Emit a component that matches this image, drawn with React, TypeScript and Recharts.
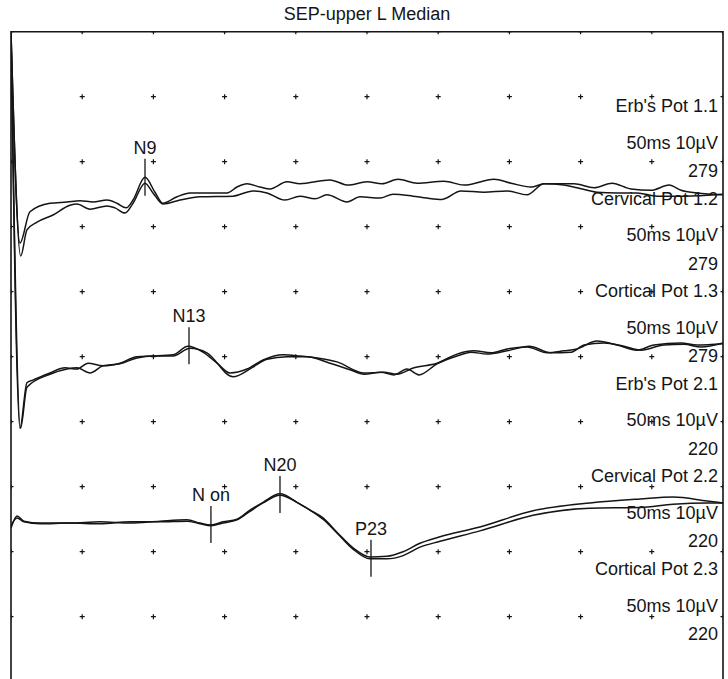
import { ComposedChart, Line, Scatter, XAxis, YAxis, ReferenceArea } from 'recharts';

// time in ms (50 ms sweep), amplitude in µV (10 µV per division, 0 at the bottom edge)
const erbRun1: [number, number][] = [
  [0, 100], [0.63, 67.5], [1.33, 72.3], [2.74, 73.6], [3.93, 73.8], [4.85, 74.0], [5.76, 73.8],
  [6.74, 74.1], [7.44, 73.6], [8.08, 72.9], [8.57, 74.1], [9.41, 77.6], [10.11, 75.3], [10.67, 73.6],
  [11.66, 74.6], [12.57, 75.2], [14.19, 75.2], [15.17, 75.2], [15.87, 76.1], [16.57, 76.6], [17.49, 76.1],
  [18.19, 75.8], [19.38, 76.9], [20.29, 76.6], [22.4, 77.2], [23.67, 76.4], [25.0, 76.9], [26.05, 76.6],
  [27.18, 77.3], [28.51, 76.7], [30.41, 77.0], [31.81, 76.4], [33.92, 77.3], [35.11, 76.7], [36.52, 76.1],
  [37.43, 76.6], [39.54, 76.6], [40.94, 76.0], [42.21, 76.7], [43.54, 75.8], [44.94, 75.6], [46.21, 76.4],
  [47.05, 75.6], [48.17, 75.2], [50, 74.9],
];
const erbRun2: [number, number][] = [
  [0, 100], [0.68, 65.5], [1.12, 69.5], [1.83, 70.7], [2.95, 71.8], [4.14, 73.3], [4.63, 73.5],
  [5.55, 72.7], [6.74, 73.2], [7.3, 72.9], [8.01, 72.1], [8.57, 73.6], [9.41, 76.7], [9.97, 75.2],
  [10.67, 73.5], [11.87, 74.1], [13.27, 74.6], [15.59, 74.7], [16.99, 75.5], [17.98, 75.2], [19.24, 74.1],
  [20.29, 74.7], [21.35, 74.3], [22.19, 74.9], [23.6, 73.8], [24.51, 74.6], [25.91, 74.4], [26.83, 75.0],
  [28.23, 74.7], [29.21, 74.4], [30.27, 74.2], [31.6, 75.5], [33.22, 75.3], [34.83, 75.5], [36.24, 74.9],
  [37.43, 76.6], [38.83, 76.4], [39.75, 76.0], [41.15, 75.3], [42.56, 75.2], [43.96, 75.2], [45.37, 74.7],
  [47.26, 74.7], [50, 75.0],
];
const cervRun1: [number, number][] = [
  [0, 100], [0.63, 39.0], [1.12, 46.0], [1.54, 46.4], [2.74, 47.5], [3.79, 48.3], [4.63, 48.1],
  [5.41, 49.0], [6.46, 48.6], [7.65, 49.0], [8.85, 50.0], [9.97, 50.1], [11.38, 50.3], [12.43, 51.6],
  [13.48, 50.7], [14.47, 49.0], [15.38, 47.5], [16.57, 48.1], [17.7, 49.5], [19.1, 50.3], [20.29, 50.1],
  [21.49, 49.8], [22.89, 49.2], [24.79, 47.5], [26.19, 47.6], [27.11, 47.3], [28.3, 48.3], [29.92, 49.0],
  [31.32, 50.4], [32.51, 50.9], [33.71, 50.6], [34.83, 51.2], [36.24, 51.5], [37.64, 50.6], [38.83, 50.9],
  [39.75, 51.2], [41.15, 52.4], [42.56, 51.8], [43.96, 51.0], [45.15, 51.8], [47.05, 52.1], [48.17, 51.8],
  [50, 52.0],
];
const cervRun2: [number, number][] = [
  [0, 100], [0.67, 39.0], [1.12, 45.3], [2.74, 47.3], [3.93, 48.1], [4.63, 48.3], [5.55, 47.5],
  [6.46, 48.6], [7.65, 48.9], [8.85, 49.8], [9.97, 50.1], [11.38, 50.1], [12.57, 51.3], [13.76, 50.6],
  [15.59, 46.9], [16.99, 48.4], [17.98, 49.6], [19.38, 50.0], [20.79, 50.0], [22.4, 49.0], [23.81, 48.0],
  [24.79, 47.3], [25.98, 47.6], [26.9, 47.2], [27.81, 48.1], [28.65, 47.2], [29.92, 48.9], [31.32, 50.1],
  [32.3, 50.7], [33.43, 50.4], [34.83, 50.9], [36.38, 51.6], [37.92, 50.6], [39.33, 50.7], [40.24, 51.8],
  [41.64, 52.1], [43.05, 51.6], [44.24, 51.0], [45.86, 51.8], [47.26, 51.9], [48.46, 51.5], [50, 52.1],
];
const cortRun1: [number, number][] = [
  [0, 23.6], [0.42, 25.5], [0.91, 24.7], [2.04, 24.4], [4.14, 24.4], [6.25, 24.6], [8.36, 24.4],
  [10.46, 24.7], [12.36, 24.9], [13.27, 24.4], [14.04, 24.1], [14.89, 24.6], [15.87, 25.0], [16.78, 26.4],
  [17.7, 27.6], [18.89, 28.9], [20.08, 27.6], [21.0, 26.4], [21.91, 25.2], [22.89, 23.0], [24.02, 20.6],
  [25.21, 19.2], [26.4, 19.3], [27.53, 20.0], [28.72, 21.3], [30.13, 22.3], [32.93, 23.8], [36.66, 26.3],
  [40.66, 27.5], [44.17, 28.1], [46.49, 28.4], [48.88, 27.8], [50, 27.5],
];
const cortRun2: [number, number][] = [
  [0, 24.0], [0.42, 25.2], [0.91, 24.6], [2.04, 24.3], [4.14, 24.4], [6.25, 24.3], [8.36, 24.6],
  [10.46, 24.6], [12.36, 24.7], [13.27, 24.3], [14.04, 24.0], [14.89, 24.4], [15.87, 24.9], [16.78, 26.2],
  [17.7, 27.5], [18.89, 28.7], [20.08, 27.6], [21.0, 26.4], [21.91, 25.0], [22.89, 22.9], [24.02, 20.4],
  [25.21, 18.9], [26.4, 18.9], [27.53, 19.4], [28.72, 20.7], [30.13, 21.6], [32.93, 23.2], [36.66, 25.6],
  [40.66, 26.7], [44.17, 26.8], [46.49, 27.3], [48.88, 27.5], [50, 27.5],
];

const GRID_T = [0, 5, 10, 15, 20, 25, 30, 35, 40, 45, 50];
const GRID_V = [0, 10, 20, 30, 40, 50, 60, 70, 80, 90, 100];

const PEAK_NAMES = ['N9', 'N13', 'N on', 'N20', 'P23'];
const PEAK_T = [9.41, 12.5, 14.04, 18.89, 25.28];
const PEAK_V = [77.6, 51.7, 24.2, 28.8, 19.0];

const CHANNELS = ["Erb's Pot 1.1", 'Cervical Pot 1.2', 'Cortical Pot 1.3', "Erb's Pot 2.1", 'Cervical Pot 2.2', 'Cortical Pot 2.3'];
const SWEEP = '50ms 10µV';
const COUNTS = [279, 279, 279, 220, 220, 220];

const FONT = '"Liberation Sans", Arial, Helvetica, sans-serif';
const INK = '#151515';

const rows = (pts: [number, number][]) => pts.map(([t, v]) => ({ t, v }));
const traces = [erbRun1, erbRun2, cervRun1, cervRun2, cortRun1, cortRun2];
const gridPoints = GRID_T.flatMap((t) => GRID_V.map((v) => ({ t, v })));
const peakRows = PEAK_NAMES.map((name, i) => ({ name, t: PEAK_T[i], v: PEAK_V[i] }));

const Plus = (p: any) => (
  <path d={`M${p.cx - 2.5},${p.cy}h5M${p.cx},${p.cy - 2.5}v5`} stroke={INK} strokeWidth={1.2} />
);

const PeakMark = (p: any) => (
  <g>
    <line x1={p.cx} x2={p.cx} y1={p.cy - 18.5} y2={p.cy + 18.5} stroke={INK} strokeWidth={1.3} />
    <text x={p.cx} y={p.cy - 23.5} textAnchor="middle" fontSize={18} fontFamily={FONT} fill={INK}>
      {p.payload.name}
    </text>
  </g>
);

export default function App() {
  const labelTop = 106;
  const groupStep = 92.6;
  const lineOffsets = [0, 36.5, 65];

  return (
    <div style={{ position: 'absolute', left: 0, top: 0, width: 728, height: 679, overflow: 'hidden', background: '#fff' }}>
      <div
        style={{
          position: 'absolute', left: 11, top: 5, width: 712, textAlign: 'center',
          fontFamily: FONT, fontSize: 18, lineHeight: '18px', color: INK,
        }}
      >
        SEP-upper L Median
      </div>

      <ComposedChart width={728} height={690} margin={{ top: 31.7, right: 5, bottom: 8.3, left: 11 }}>
        <XAxis type="number" dataKey="t" domain={[0, 50]} hide allowDataOverflow />
        <YAxis type="number" dataKey="v" domain={[0, 100]} hide allowDataOverflow />
        <ReferenceArea x1={0} x2={50} y1={0} y2={100} fill="none" stroke={INK} strokeWidth={1.6} ifOverflow="visible" />
        <Scatter data={gridPoints} dataKey="v" shape={Plus} isAnimationActive={false} />
        {traces.map((pts, i) => (
          <Line
            key={i}
            data={rows(pts)}
            dataKey="v"
            type="monotone"
            stroke={INK}
            strokeWidth={1.5}
            dot={false}
            activeDot={false}
            isAnimationActive={false}
          />
        ))}
        <Scatter data={peakRows} dataKey="v" shape={PeakMark} isAnimationActive={false} />
      </ComposedChart>

      {CHANNELS.map((name, i) =>
        [name, SWEEP, String(COUNTS[i])].map((txt, j) => (
          <div
            key={`${i}-${j}`}
            style={{
              position: 'absolute', right: 10, top: labelTop + groupStep * i + lineOffsets[j] - 9,
              fontFamily: FONT, fontSize: 18, lineHeight: '18px', color: INK, whiteSpace: 'nowrap',
            }}
          >
            {txt}
          </div>
        )),
      )}
    </div>
  );
}
